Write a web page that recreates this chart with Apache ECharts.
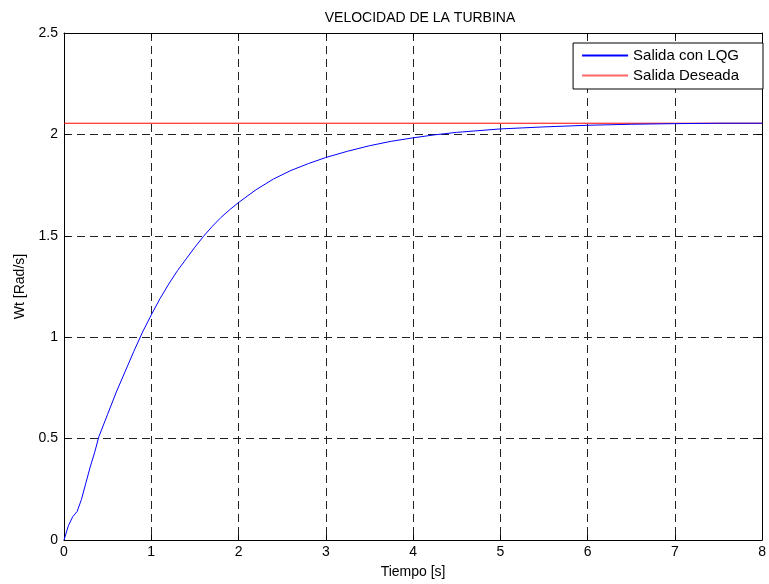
<!DOCTYPE html>
<html>
<head>
<meta charset="utf-8">
<script src="https://cdn.jsdelivr.net/npm/echarts@6/dist/echarts.min.js"></script>
<style>
    html, body { margin: 0; padding: 0; background: #fff; }
    #chart { width: 769px; height: 584px; }
</style>
</head>
<body>
<div id="chart"></div>
<script>
// datos
var tiempo = [0, 0.05, 0.1, 0.15, 0.2, 0.25, 0.3, 0.35, 0.4, 0.5, 0.6, 0.7, 0.8, 0.9,
    1.0, 1.1, 1.2, 1.3, 1.4, 1.5, 1.6, 1.7, 1.8, 1.9, 2.0, 2.2, 2.4, 2.6, 2.8, 3.0,
    3.25, 3.5, 3.75, 4.0, 4.25, 4.5, 5.0, 5.5, 6.0, 6.5, 7.0, 7.5, 8.0];
var salidaLQG = [0, 0.07, 0.115, 0.14, 0.2, 0.28, 0.36, 0.43, 0.51, 0.62, 0.73, 0.83, 0.93, 1.025,
    1.11, 1.19, 1.262, 1.328, 1.386, 1.444, 1.498, 1.547, 1.591, 1.629, 1.664, 1.727, 1.78, 1.822, 1.856, 1.886,
    1.917, 1.944, 1.966, 1.983, 1.998, 2.01, 2.027, 2.037, 2.045, 2.05, 2.053, 2.055, 2.055];
var referencia = 2.055;
var xTicks = [0, 8, 1];
var yTicks = [0, 2.5, 0.5];

var lqgData = [];
for (var i = 0; i < tiempo.length; i++) {
    lqgData.push([tiempo[i], salidaLQG[i]]);
}
var refData = [[xTicks[0], referencia], [xTicks[1], referencia]];

var font = 'Liberation Sans, Arial, sans-serif';
var gridLine = {
    show: true,
    lineStyle: { color: '#222', type: [8, 5], width: 1 }
};

function xAxisCfg(pos, labels) {
    return {
        type: 'value',
        position: pos,
        min: xTicks[0], max: xTicks[1], interval: xTicks[2],
        axisLine: { show: true, onZero: false, lineStyle: { color: '#000', width: 1 } },
        axisTick: { show: true, inside: true, length: 5, lineStyle: { color: '#000' } },
        axisLabel: { show: labels, color: '#000', fontSize: 14, fontFamily: font, margin: 5 },
        splitLine: labels ? gridLine : { show: false },
        name: labels ? 'Tiempo [s]' : '',
        nameLocation: 'middle',
        nameGap: 25,
        nameTextStyle: { color: '#000', fontSize: 14, fontFamily: font }
    };
}
function yAxisCfg(pos, labels) {
    return {
        type: 'value',
        position: pos,
        min: yTicks[0], max: yTicks[1], interval: yTicks[2],
        axisLine: { show: true, onZero: false, lineStyle: { color: '#000', width: 1 } },
        axisTick: { show: true, inside: true, length: 5, lineStyle: { color: '#000' } },
        axisLabel: { show: labels, color: '#000', fontSize: 14, fontFamily: font, margin: 6 },
        splitLine: labels ? gridLine : { show: false },
        name: labels ? 'Wt [Rad/s]' : '',
        nameLocation: 'middle',
        nameGap: 33,
        nameTextStyle: { color: '#000', fontSize: 14, fontFamily: font }
    };
}

var myChart = echarts.init(document.getElementById('chart'));
var option = {
    backgroundColor: '#fff',
    animation: false,
    title: {
        text: 'VELOCIDAD DE LA TURBINA',
        left: 415,
        textAlign: 'center',
        top: 6,
        textStyle: { color: '#000', fontSize: 14, fontWeight: 'normal', fontFamily: font }
    },
    grid: { left: 64, right: 5, top: 33, bottom: 44 },
    legend: {
        orient: 'vertical',
        right: 6,
        top: 43,
        padding: [5, 24, 6, 9],
        itemGap: 5,
        itemWidth: 46,
        itemHeight: 2,
        icon: 'rect',
        borderColor: '#000',
        borderWidth: 1,
        backgroundColor: '#fff',
        textStyle: { color: '#000', fontSize: 15, fontFamily: font },
        data: [
            { name: 'Salida con LQG', itemStyle: { color: '#0000ff' } },
            { name: 'Salida Deseada', itemStyle: { color: '#ff6666' } }
        ]
    },
    xAxis: [xAxisCfg('bottom', true), xAxisCfg('top', false)],
    yAxis: [yAxisCfg('left', true), yAxisCfg('right', false)],
    series: [
        {
            name: 'Salida con LQG',
            type: 'line',
            data: lqgData,
            showSymbol: false,
            lineStyle: { color: '#0000ff', width: 1 },
            itemStyle: { color: '#0000ff' },
            z: 3
        },
        {
            name: 'Salida Deseada',
            type: 'line',
            data: refData,
            showSymbol: false,
            lineStyle: { color: '#ff0000', width: 1 },
            itemStyle: { color: '#ff6666' },
            z: 2
        }
    ]
};
myChart.setOption(option);
</script>
</body>
</html>
